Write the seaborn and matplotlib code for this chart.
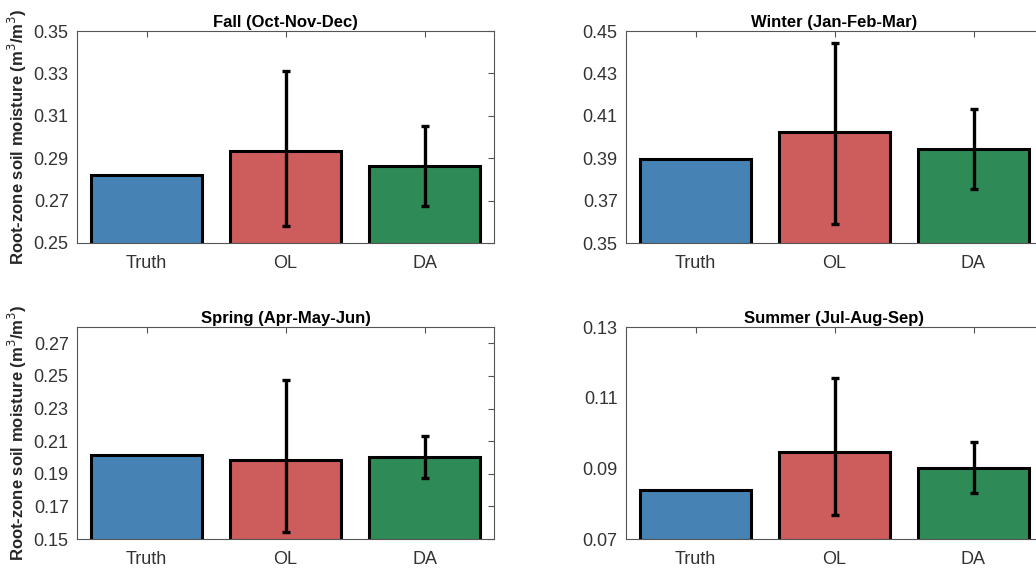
import matplotlib
matplotlib.use("Agg")
import matplotlib.pyplot as plt
import seaborn as sns
import pandas as pd
import numpy as np

categories = ["Truth", "OL", "DA"]
seasons = ["Fall (Oct-Nov-Dec)", "Winter (Jan-Feb-Mar)", "Spring (Apr-May-Jun)", "Summer (Jul-Aug-Sep)"]

fall_mean = [0.2823, 0.2934, 0.2862]
fall_low = [np.nan, 0.2582, 0.2676]
fall_high = [np.nan, 0.3312, 0.3050]

winter_mean = [0.3895, 0.4022, 0.3944]
winter_low = [np.nan, 0.3591, 0.3754]
winter_high = [np.nan, 0.4444, 0.4132]

spring_mean = [0.2017, 0.1986, 0.2005]
spring_low = [np.nan, 0.1541, 0.1874]
spring_high = [np.nan, 0.2475, 0.2132]

summer_mean = [0.0838, 0.0947, 0.0902]
summer_low = [np.nan, 0.0768, 0.0830]
summer_high = [np.nan, 0.1156, 0.0975]

ylims = [(0.25, 0.35), (0.35, 0.45), (0.15, 0.28), (0.07, 0.13)]
yticks = [
    [0.25, 0.27, 0.29, 0.31, 0.33, 0.35],
    [0.35, 0.37, 0.39, 0.41, 0.43, 0.45],
    [0.15, 0.17, 0.19, 0.21, 0.23, 0.25, 0.27],
    [0.07, 0.09, 0.11, 0.13],
]
colors = ["#4682B4", "#CD5C5C", "#2E8B57"]

sns.set_theme(style="white")
plt.rcParams["font.family"] = ["Liberation Sans", "DejaVu Sans"]

fig = plt.figure(figsize=(10.36, 5.71), dpi=100)
W, H = 1036, 571
positions = [
    (77, 31, 417, 212),
    (626, 31, 417, 212),
    (77, 327, 417, 212),
    (626, 327, 417, 212),
]

data = [
    (fall_mean, fall_low, fall_high),
    (winter_mean, winter_low, winter_high),
    (spring_mean, spring_low, spring_high),
    (summer_mean, summer_low, summer_high),
]

for i, (season, (mean, low, high)) in enumerate(zip(seasons, data)):
    x0, y0, w, h = positions[i]
    ax = fig.add_axes([x0 / W, 1 - (y0 + h) / H, w / W, h / H])
    df = pd.DataFrame({"cat": categories, "val": mean})
    sns.barplot(data=df, x="cat", y="val", hue="cat", palette=colors, order=categories,
                hue_order=categories, width=0.8, edgecolor="black", linewidth=2.2,
                saturation=1, legend=False, ax=ax, errorbar=None)
    mean_a = np.array(mean)
    low_a = np.array(low)
    high_a = np.array(high)
    xs = np.arange(len(categories))
    m = ~np.isnan(low_a)
    ax.errorbar(xs[m], mean_a[m], yerr=[mean_a[m] - low_a[m], high_a[m] - mean_a[m]],
                fmt="none", ecolor="black", elinewidth=2.4, capsize=3, capthick=2.4, zorder=5)
    ax.set_xlim(-0.5, 2.5)
    ax.set_ylim(*ylims[i])
    ax.set_yticks(yticks[i])
    ax.set_yticklabels([f"{t:.2f}" for t in yticks[i]])
    ax.set_xlabel("")
    if i % 2 == 0:
        ax.set_ylabel("Root-zone soil moisture (m$^3$/m$^3$)", fontsize=12, fontweight="bold",
                      color="#262626", labelpad=3)
    else:
        ax.set_ylabel("")
    ax.set_title(season, fontsize=12, fontweight="bold", color="black", pad=3)
    for sp in ax.spines.values():
        sp.set_visible(True)
        sp.set_color("#555555")
        sp.set_linewidth(0.8)
    ax.tick_params(axis="both", direction="in", length=4, width=0.8, color="#555555",
                   top=True, right=True, labelsize=13, labelcolor="#333333")
    ax.tick_params(axis="y", pad=6)
    ax.tick_params(axis="x", pad=9)
    ax.grid(False)

fig.savefig("out.png", dpi=100, facecolor="white")
